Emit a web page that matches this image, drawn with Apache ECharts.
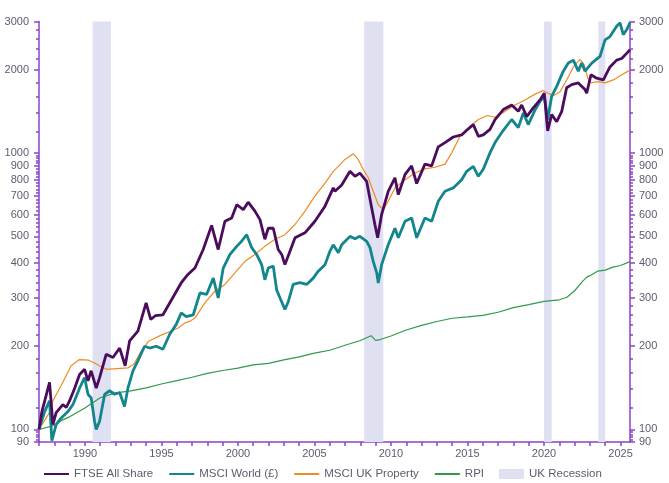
<!DOCTYPE html>
<html>
<head>
<meta charset="utf-8">
<script src="https://cdn.jsdelivr.net/npm/echarts@6/dist/echarts.min.js"></script>
<style>
  html, body { margin: 0; padding: 0; background: #fff; }
  #chart { width: 669px; height: 483px; }
</style>
</head>
<body>
<div id="chart"></div>
<script>
// all series rebased to 100 in Jan 1987, points are [year, index]
var ftse = [
  [1987.0, 100], [1987.19, 116], [1987.69, 148], [1987.91, 104], [1988.12, 115], [1988.56, 123],
  [1988.78, 120], [1989.0, 127], [1989.33, 141], [1989.65, 158], [1989.98, 165], [1990.2, 150],
  [1990.41, 163], [1990.74, 141], [1990.96, 154], [1991.39, 187], [1991.83, 182], [1992.27, 197],
  [1992.63, 170], [1992.92, 209], [1993.46, 227], [1994.0, 287], [1994.3, 250], [1994.6, 258],
  [1995.1, 260], [1995.86, 308], [1996.29, 339], [1996.73, 364], [1997.19, 384], [1997.73, 448],
  [1998.28, 548], [1998.71, 448], [1999.15, 567], [1999.59, 583], [1999.92, 651], [2000.35, 625],
  [2000.67, 665], [2001.11, 617], [2001.44, 575], [2001.76, 488], [2001.98, 535], [2002.31, 535],
  [2002.63, 448], [2002.86, 430], [2003.07, 395], [2003.4, 442], [2003.73, 494], [2004.38, 515],
  [2005.03, 567], [2005.69, 643], [2006.23, 749], [2006.34, 728], [2006.78, 768], [2007.32, 860],
  [2007.65, 825], [2007.97, 847], [2008.41, 791], [2008.74, 633], [2008.95, 552], [2009.13, 494],
  [2009.39, 600], [2009.82, 728], [2010.26, 815], [2010.48, 708], [2010.92, 838], [2011.35, 900],
  [2011.68, 777], [2012.22, 913], [2012.66, 900], [2013.09, 1055], [2013.53, 1093], [2014.07, 1145],
  [2014.62, 1165], [2014.95, 1211], [2015.38, 1270], [2015.71, 1152], [2016.03, 1165], [2016.47, 1220],
  [2016.8, 1324], [2017.34, 1439], [2017.89, 1495], [2018.32, 1418], [2018.54, 1495], [2018.87, 1358],
  [2019.3, 1460], [2019.74, 1560], [2020.02, 1650], [2020.24, 1205], [2020.5, 1380], [2020.83, 1301],
  [2021.16, 1418], [2021.48, 1727], [2021.81, 1773], [2022.24, 1798], [2022.68, 1700], [2022.79, 1650],
  [2023.07, 1924], [2023.44, 1870], [2023.88, 1843], [2024.31, 2054], [2024.75, 2174], [2025.08, 2204],
  [2025.4, 2300], [2025.62, 2370]
];
var msciWorld = [
  [1987.0, 100], [1987.37, 116], [1987.69, 127], [1987.84, 91], [1988.12, 104], [1988.45, 110],
  [1988.89, 116], [1989.22, 123], [1989.65, 141], [1989.98, 154], [1990.2, 134], [1990.41, 130],
  [1990.63, 107], [1990.74, 100], [1990.96, 107], [1991.29, 134], [1991.61, 138], [1991.94, 134],
  [1992.27, 136], [1992.59, 121], [1992.81, 141], [1993.14, 163], [1993.46, 177], [1993.9, 200],
  [1994.23, 197], [1994.66, 200], [1995.1, 195], [1995.54, 221], [1995.97, 240], [1996.29, 264],
  [1996.62, 256], [1997.08, 260], [1997.52, 312], [1997.95, 308], [1998.39, 353], [1998.71, 299],
  [1999.04, 384], [1999.48, 430], [1999.92, 460], [2000.24, 480], [2000.57, 507], [2000.9, 455],
  [2001.22, 430], [2001.55, 395], [2001.76, 348], [2001.98, 384], [2002.31, 390], [2002.53, 320],
  [2002.75, 299], [2003.07, 272], [2003.29, 290], [2003.61, 335], [2004.05, 340], [2004.49, 335],
  [2004.92, 353], [2005.25, 374], [2005.69, 395], [2006.01, 442], [2006.23, 466], [2006.56, 436],
  [2006.78, 466], [2007.32, 500], [2007.65, 490], [2007.97, 500], [2008.41, 480], [2008.63, 455],
  [2008.84, 406], [2009.07, 369], [2009.17, 339], [2009.39, 395], [2009.82, 466], [2010.26, 535],
  [2010.48, 494], [2010.92, 567], [2011.35, 583], [2011.68, 494], [2012.22, 583], [2012.66, 567],
  [2013.09, 670], [2013.53, 728], [2014.07, 749], [2014.62, 802], [2014.95, 860], [2015.38, 896],
  [2015.71, 825], [2016.03, 875], [2016.47, 1003], [2016.8, 1093], [2017.34, 1211], [2017.89, 1325],
  [2018.32, 1238], [2018.65, 1400], [2018.97, 1270], [2019.41, 1433], [2019.74, 1541], [2020.02, 1606],
  [2020.24, 1325], [2020.5, 1606], [2020.83, 1747], [2021.26, 1983], [2021.59, 2121], [2021.92, 2174],
  [2022.24, 1983], [2022.46, 2121], [2022.68, 1983], [2023.12, 2121], [2023.66, 2244], [2023.99, 2575],
  [2024.31, 2646], [2024.75, 2886], [2024.97, 2966], [2025.18, 2690], [2025.4, 2800], [2025.62, 2970]
];
var ukProperty = [
  [1987.0, 100], [1987.47, 110], [1987.71, 116], [1987.91, 127], [1988.5, 146], [1989.1, 170],
  [1989.65, 179], [1990.25, 178], [1990.63, 174], [1990.95, 170], [1991.4, 165], [1992.1, 166],
  [1992.8, 167], [1993.2, 172], [1993.63, 190], [1994.18, 209], [1994.95, 219], [1995.64, 227],
  [1996.1, 233], [1996.54, 243], [1996.84, 246], [1997.19, 253], [1997.84, 287], [1998.5, 317],
  [1999.15, 335], [1999.8, 369], [2000.46, 406], [2001.11, 430], [2001.76, 460], [2002.42, 488],
  [2003.07, 507], [2003.73, 552], [2004.38, 617], [2005.03, 699], [2005.69, 780], [2006.23, 860],
  [2006.67, 910], [2006.99, 950], [2007.54, 995], [2007.86, 950], [2008.19, 873], [2008.52, 815],
  [2008.84, 728], [2009.17, 651], [2009.5, 625], [2009.82, 670], [2010.26, 749], [2010.92, 802],
  [2011.57, 848], [2012.22, 878], [2012.88, 890], [2013.53, 913], [2013.97, 1003], [2014.51, 1152],
  [2015.05, 1235], [2015.71, 1325], [2016.3, 1370], [2016.8, 1350], [2017.45, 1418], [2018.1, 1495],
  [2018.76, 1560], [2019.41, 1637], [2019.95, 1685], [2020.28, 1650], [2020.61, 1616], [2021.05, 1670],
  [2021.48, 1843], [2021.92, 2054], [2022.35, 2186], [2022.63, 2089], [2022.86, 1870], [2023.07, 1800],
  [2023.55, 1818], [2023.99, 1798], [2024.53, 1843], [2025.08, 1924], [2025.62, 2000]
];
var rpi = [
  [1987.0, 100], [1988.0, 103.3], [1988.5, 108], [1989.0, 111], [1990.0, 119.5], [1991.0, 130.2],
  [1992.0, 135.6], [1993.0, 137.9], [1994.0, 141.3], [1995.0, 146], [1996.0, 150.2], [1997.0, 154.4],
  [1998.0, 159.5], [1999.0, 163.4], [2000.0, 166.6], [2001.0, 171.1], [2002.0, 173.3], [2003.0, 178.4],
  [2004.0, 183.1], [2005.0, 188.9], [2006.0, 193.4], [2007.0, 201.6], [2008.0, 209.8], [2008.7, 218.4],
  [2009.0, 210.1], [2009.3, 211.5], [2010.0, 217.9], [2011.0, 229], [2012.0, 238], [2013.0, 245.8],
  [2014.0, 252.6], [2015.0, 255.4], [2016.0, 258.8], [2017.0, 265.5], [2018.0, 276], [2019.0, 283],
  [2020.0, 290.6], [2021.0, 294.6], [2021.5, 301], [2022.0, 317.7], [2022.5, 343], [2022.8, 356],
  [2023.0, 360.3], [2023.5, 374], [2024.0, 377.3], [2024.5, 387], [2025.0, 392.1], [2025.62, 405]
];
// UK recessions, [start, end] in years
var recessions = [[1990.5, 1991.7], [2008.25, 2009.5], [2020.0, 2020.5], [2023.55, 2024.0]];

var xLabelYears = [1990, 1995, 2000, 2005, 2010, 2015, 2020, 2025];
var yLabelValues = [90, 100, 200, 300, 400, 500, 600, 700, 800, 900, 1000, 2000, 3000];

var xTickYears = [];
for (var yr = 1987; yr <= 2025; yr++) xTickYears.push(yr);

// minor ticks: steps of 2 below 100, 20 up to 1000, 200 up to 3000
var yMinorValues = [92, 94, 96, 98];
for (var v = 120; v < 1000; v += 20) if (v % 100) yMinorValues.push(v);
for (var w = 1200; w < 3000; w += 200) if (w !== 2000) yMinorValues.push(w);

var axisColor = '#8c43c6';
var labelColor = '#5c5c6e';

function plainNumber(val) {
  return String(Math.round(val));
}

function yAxisCfg(side, major) {
  return {
    type: 'log',
    logBase: 10,
    min: 90,
    max: 3000,
    position: side,
    axisLine: { show: major, lineStyle: { color: axisColor, width: 1.5 } },
    axisTick: {
      show: true,
      length: major ? 5 : 3,
      lineStyle: { color: axisColor, width: 1.5 },
      customValues: major ? yLabelValues : yMinorValues
    },
    axisLabel: {
      show: major,
      color: labelColor,
      fontSize: 11,
      margin: side === 'left' ? 10 : 9,
      formatter: plainNumber,
      customValues: yLabelValues
    },
    splitLine: { show: false }
  };
}

// hide the marker circle ECharts puts on line legend icons
var noDot = { opacity: 0 };

var chart = echarts.init(document.getElementById('chart'), null, { renderer: 'canvas' });

var option = {
  animation: false,
  textStyle: { fontFamily: 'Liberation Sans, Arial, sans-serif' },
  grid: { left: 39, right: 39, top: 21.5, bottom: 41 },
  legend: {
    left: 38,
    top: 463,
    itemWidth: 25,
    itemHeight: 10,
    itemGap: 15,
    textStyle: { color: labelColor, fontSize: 11.5 },
    data: [
      { name: 'FTSE All Share', itemStyle: noDot },
      { name: 'MSCI World (£)', itemStyle: noDot },
      { name: 'MSCI UK Property', itemStyle: noDot },
      { name: 'RPI', itemStyle: noDot },
      { name: 'UK Recession', icon: 'rect' }
    ]
  },
  xAxis: {
    type: 'value',
    min: 1987,
    max: 2025.62,
    axisLine: { lineStyle: { color: axisColor, width: 1.5 } },
    axisTick: { length: 4, lineStyle: { color: axisColor, width: 1.5 }, customValues: xTickYears },
    axisLabel: { color: labelColor, fontSize: 11, margin: 6, formatter: plainNumber, customValues: xLabelYears },
    splitLine: { show: false }
  },
  yAxis: [yAxisCfg('left', true), yAxisCfg('right', true), yAxisCfg('left', false), yAxisCfg('right', false)],
  series: [
    {
      name: 'UK Recession',
      type: 'line',
      data: [],
      z: 1,
      symbol: 'none',
      itemStyle: { color: '#dfe0f2' },
      lineStyle: { color: '#dfe0f2' },
      markArea: {
        silent: true,
        itemStyle: { color: '#dfe0f2', opacity: 1 },
        data: recessions.map(function (r) { return [{ xAxis: r[0] }, { xAxis: r[1] }]; })
      }
    },
    {
      name: 'RPI', type: 'line', data: rpi, symbol: 'none', z: 3,
      lineStyle: { color: '#2f9a48', width: 1.2 }, itemStyle: { color: '#2f9a48' }
    },
    {
      name: 'MSCI UK Property', type: 'line', data: ukProperty, symbol: 'none', z: 3,
      lineStyle: { color: '#f28a24', width: 1.2 }, itemStyle: { color: '#f28a24' }
    },
    {
      name: 'MSCI World (£)', type: 'line', data: msciWorld, symbol: 'none', z: 4,
      lineStyle: { color: '#12868c', width: 2.8 }, itemStyle: { color: '#12868c' }
    },
    {
      name: 'FTSE All Share', type: 'line', data: ftse, symbol: 'none', z: 5,
      lineStyle: { color: '#4b0c5e', width: 2.8 }, itemStyle: { color: '#4b0c5e' }
    }
  ]
};

chart.setOption(option);
</script>
</body>
</html>
